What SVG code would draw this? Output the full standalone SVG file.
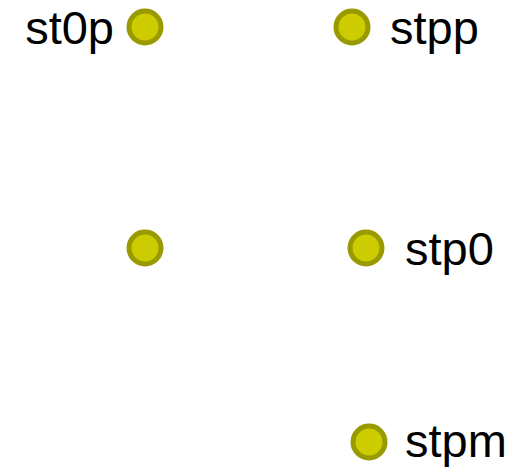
<svg xmlns="http://www.w3.org/2000/svg" width="512" height="467" viewBox="0 0 512 467">
<style>
.pt{fill:#cccc00;stroke:#999900;stroke-width:5}
.lb{font-family:"Liberation Sans",Arial,sans-serif;font-size:47px;fill:#000}
</style>
<rect width="512" height="467" fill="#fff"/>
<g id="connectors"></g>
<g id="st0p"><circle class="pt" cx="145" cy="27" r="16"/><text class="lb" x="114" y="44" text-anchor="end">st0p</text></g>
<g id="stpp"><circle class="pt" cx="352" cy="27" r="16"/><text class="lb" x="390" y="44">stpp</text></g>
<g id="st00"><circle class="pt" cx="145" cy="248" r="16"/></g>
<g id="stp0"><circle class="pt" cx="366" cy="248" r="16"/><text class="lb" x="405" y="265">stp0</text></g>
<g id="stpm"><circle class="pt" cx="369" cy="442" r="16"/><text class="lb" x="405" y="457">stpm</text></g>
</svg>
